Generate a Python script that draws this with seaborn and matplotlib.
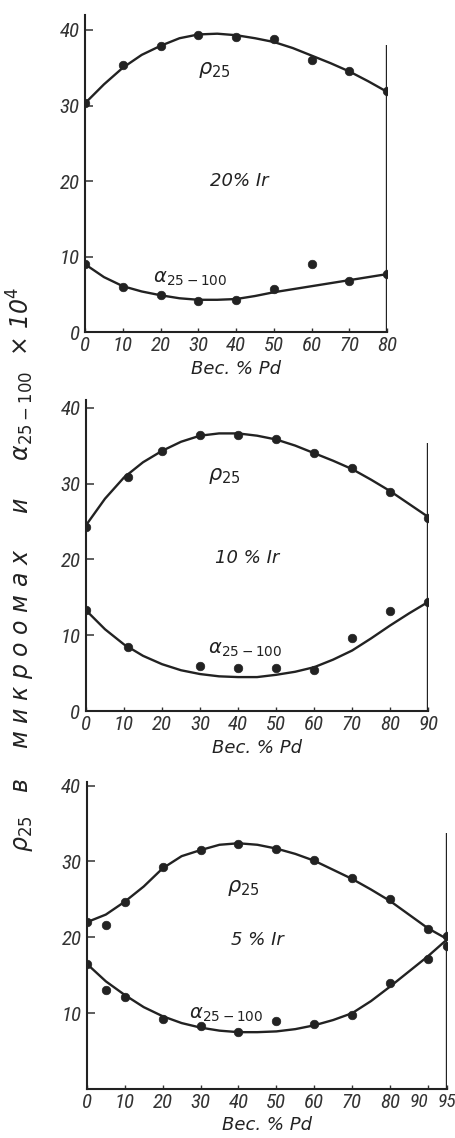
import numpy as np
import pandas as pd
import matplotlib
matplotlib.use("Agg")
import matplotlib.pyplot as plt
from matplotlib import font_manager
import seaborn as sns

# ---------------- data ----------------
# Panel 1: 20 % Ir
p1_x = [0, 10, 20, 30, 40, 50, 60, 70, 80]
p1_rho = [30.3, 35.4, 37.9, 39.3, 39.1, 38.8, 36.0, 34.6, 31.9]
p1_alpha = [9.0, 6.0, 4.9, 4.2, 4.3, 5.7, 9.1, 6.8, 7.7]
p1_cx = [0, 5, 10, 15, 20, 25, 30, 35, 40, 45, 50, 55, 60, 65, 70, 75, 80]
p1_rho_curve = [30.3, 32.8, 35.0, 36.7, 37.9, 38.9, 39.4, 39.5, 39.3, 38.9, 38.4, 37.6, 36.6, 35.6, 34.5, 33.2, 31.8]
p1_alpha_curve = [9.0, 7.3, 6.1, 5.4, 4.9, 4.5, 4.3, 4.3, 4.4, 4.8, 5.3, 5.7, 6.1, 6.5, 6.9, 7.3, 7.7]

# Panel 2: 10 % Ir
p2_x = [0, 11, 20, 30, 40, 50, 60, 70, 80, 90]
p2_rho = [24.3, 30.8, 34.3, 36.4, 36.4, 35.9, 34.0, 32.0, 28.9, 25.5]
p2_ax = [0, 11, 30, 40, 50, 60, 70, 80, 90]
p2_alpha = [13.3, 8.5, 6.0, 5.7, 5.7, 5.4, 9.7, 13.2, 14.4]
p2_cx = [0, 5, 10, 15, 20, 25, 30, 35, 40, 45, 50, 55, 60, 65, 70, 75, 80, 85, 90]
p2_rho_curve = [24.5, 28.0, 30.8, 32.8, 34.3, 35.5, 36.3, 36.6, 36.6, 36.3, 35.8, 35.0, 34.0, 33.0, 31.9, 30.5, 29.0, 27.3, 25.6]
p2_alpha_curve = [13.3, 10.8, 8.8, 7.3, 6.2, 5.4, 4.9, 4.6, 4.5, 4.5, 4.8, 5.2, 5.8, 6.8, 8.0, 9.6, 11.3, 12.9, 14.4]

# Panel 3: 5 % Ir
p3_x = [0, 5, 10, 20, 30, 40, 50, 60, 70, 80, 90, 95]
p3_rho = [22.0, 21.6, 24.7, 29.3, 31.5, 32.3, 31.6, 30.2, 27.8, 25.0, 21.1, 20.2]
p3_alpha = [16.5, 13.0, 12.2, 9.3, 8.3, 7.5, 9.0, 8.6, 9.8, 14.0, 17.2, 18.9]
p3_cx = [0, 5, 10, 15, 20, 25, 30, 35, 40, 45, 50, 55, 60, 65, 70, 75, 80, 85, 90, 95]
p3_rho_curve = [22.0, 23.0, 24.7, 26.7, 29.1, 30.7, 31.5, 32.2, 32.4, 32.2, 31.7, 31.0, 30.1, 28.9, 27.7, 26.3, 24.8, 23.0, 21.2, 19.8]
p3_alpha_curve = [16.5, 14.2, 12.4, 10.8, 9.6, 8.7, 8.1, 7.7, 7.5, 7.5, 7.6, 7.9, 8.4, 9.1, 10.0, 11.6, 13.5, 15.5, 17.5, 19.7]

p1_xticks = [0, 10, 20, 30, 40, 50, 60, 70, 80]
p2_xticks = [0, 10, 20, 30, 40, 50, 60, 70, 80, 90]
p3_xticks = [0, 10, 20, 30, 40, 50, 60, 70, 80, 90, 95]
p12_yticks = [0, 10, 20, 30, 40]
p3_yticks = [10, 20, 30, 40]

titles = ["20% Ir", "10 % Ir", "5 % Ir"]
xlabel = "Вес. % Pd"
ylabel = "ρ$_{25}$   в    м и к р о о м а х     и     α$_{25-100}$  × 10$^4$"

# ---------------- style ----------------
sns.set_style("ticks")
plt.rcParams['font.family'] = ['DejaVu Sans']
plt.rcParams['mathtext.fontset'] = 'dejavusans'

# narrow font for tick numbers, if a condensed face exists
names = {f.name for f in font_manager.fontManager.ttflist}
narrow = None
for cand in ["Liberation Sans Narrow", "Roboto Condensed", "Open Sans Condensed", "DejaVu Sans Condensed"]:
    if cand in names:
        narrow = cand
        break
tick_kw = dict(family=[narrow] if narrow else ["DejaVu Sans"], style="italic",
               stretch="condensed")

ink = "#222222"
fig = plt.figure(figsize=(4.55, 11.38), dpi=100)

panels = [
    dict(rect=[0.187, 0.708, 0.664, 0.279], xlim=(0, 80), ylim=(0, 42), xr=80, vtop=38.0,
         x=p1_x, rho=p1_rho, ax_=p1_x, alpha=p1_alpha, cx=p1_cx, rc=p1_rho_curve, ac=p1_alpha_curve,
         xticks=p1_xticks, yticks=p12_yticks, title=titles[0],
         rho_lbl=(30, 34.2), t_lbl=(33, 19.3), a_lbl=(18, 6.6)),
    dict(rect=[0.189, 0.375, 0.752, 0.2735], xlim=(0, 90), ylim=(0, 41), xr=90, vtop=35.4,
         x=p2_x, rho=p2_rho, ax_=p2_ax, alpha=p2_alpha, cx=p2_cx, rc=p2_rho_curve, ac=p2_alpha_curve,
         xticks=p2_xticks, yticks=p12_yticks, title=titles[1],
         rho_lbl=(32, 30.5), t_lbl=(34, 19.5), a_lbl=(32, 7.6)),
    dict(rect=[0.191, 0.043, 0.791, 0.270], xlim=(0, 95), ylim=(0, 40.5), xr=95, vtop=33.8,
         x=p3_x, rho=p3_rho, ax_=p3_x, alpha=p3_alpha, cx=p3_cx, rc=p3_rho_curve, ac=p3_alpha_curve,
         xticks=p3_xticks, yticks=p3_yticks, title=titles[2],
         rho_lbl=(37, 26.0), t_lbl=(38, 19.0), a_lbl=(27, 9.3)),
]

for i, p in enumerate(panels):
    ax = fig.add_axes(p["rect"])
    curve = pd.DataFrame({"x": p["cx"], "rho": p["rc"], "alpha": p["ac"]})
    sns.lineplot(data=curve, x="x", y="rho", ax=ax, color=ink, lw=1.7, sort=False)
    sns.lineplot(data=curve, x="x", y="alpha", ax=ax, color=ink, lw=1.7, sort=False)
    sns.scatterplot(x=p["x"], y=p["rho"], ax=ax, color=ink, s=38, edgecolor=ink, zorder=5)
    sns.scatterplot(x=p["ax_"], y=p["alpha"], ax=ax, color=ink, s=38, edgecolor=ink, zorder=5)
    ax.vlines(p["xr"], 0, p["vtop"], color=ink, lw=1.7)
    ax.set_xlim(*p["xlim"])
    ax.set_ylim(*p["ylim"])
    ax.set_xticks(p["xticks"])
    ax.set_yticks(p["yticks"])
    ax.tick_params(axis="y", direction="in", length=6, width=1.1, colors="#333333", pad=4)
    ax.tick_params(axis="x", direction="in", length=3, width=1.0, colors="#333333", pad=3)
    for lab in ax.get_xticklabels() + ax.get_yticklabels():
        lab.set_fontproperties(font_manager.FontProperties(size=15, **tick_kw))
    if i == 2:
        labs = ax.get_xticklabels()
        labs[-2].set_horizontalalignment("right")
        labs[-2].set_fontsize(14)
        labs[-1].set_horizontalalignment("center")
        labs[-1].set_fontsize(14)
    sns.despine(ax=ax, top=True, right=True)
    for s in ("left", "bottom"):
        ax.spines[s].set_color(ink)
        ax.spines[s].set_linewidth(1.5)
    ax.set_xlabel(xlabel, fontsize=13, style="italic", color=ink, labelpad=3)
    ax.set_ylabel("")
    ax.text(*p["rho_lbl"], "ρ$_{25}$", fontsize=15, style="italic", color=ink)
    ax.text(*p["t_lbl"], p["title"], fontsize=13, style="italic", color=ink)
    ax.text(*p["a_lbl"], "α$_{25-100}$", fontsize=14, style="italic", color=ink)

fig.text(0.045, 0.50, ylabel, rotation=90, ha="center", va="center",
         fontsize=17, style="italic", color=ink)

fig.savefig("out.png", dpi=100, facecolor="white")
